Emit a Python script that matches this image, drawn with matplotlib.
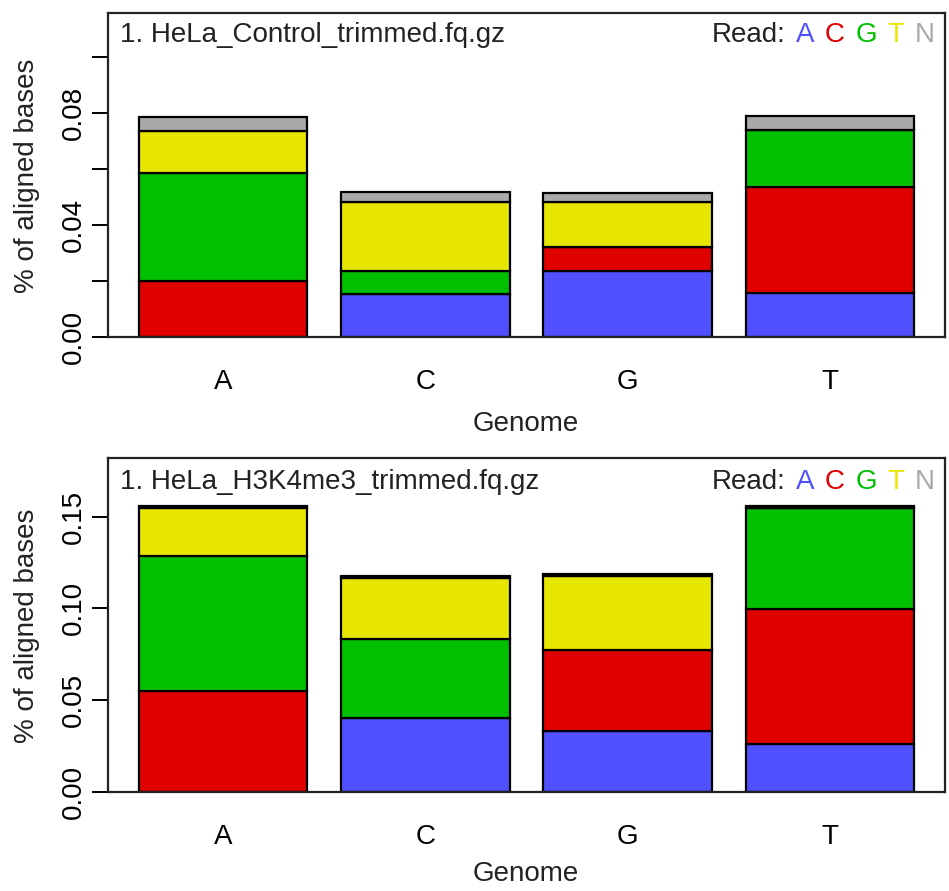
import matplotlib
matplotlib.use("Agg")
import matplotlib.pyplot as plt
from matplotlib.offsetbox import TextArea, HPacker, AnchoredOffsetbox

plt.rcParams['font.family'] = ['Liberation Sans', 'DejaVu Sans']

genome = ["A", "C", "G", "T"]
read_bases = ["A", "C", "G", "T", "N"]
base_colors = ["#5050FF", "#E00000", "#00C000", "#E6E600", "#A9A9A9"]

# HeLa_Control: fraction of aligned bases, per read base, for each genome base
ctrl_A = [0.0, 0.0155, 0.0237, 0.0157]
ctrl_C = [0.0201, 0.0, 0.0084, 0.0381]
ctrl_G = [0.0387, 0.0083, 0.0, 0.0202]
ctrl_T = [0.0149, 0.0246, 0.0161, 0.0]
ctrl_N = [0.0051, 0.0036, 0.0032, 0.0050]

# HeLa_H3K4me3
h3k_A = [0.0, 0.0400, 0.0333, 0.0260]
h3k_C = [0.0551, 0.0, 0.0440, 0.0735]
h3k_G = [0.0735, 0.0433, 0.0, 0.0551]
h3k_T = [0.0260, 0.0331, 0.0404, 0.0]
h3k_N = [0.0012, 0.0014, 0.0010, 0.0014]

FS = 20
W, H = 949, 891


def draw_panel(ax, series, title, ymax, yticks, ylabels):
    x = [0.7 + 1.2 * i for i in range(len(genome))]
    bottom = [0.0] * len(genome)
    for vals, col in zip(series, base_colors):
        ax.bar(x, vals, width=1.0, bottom=bottom, color=col,
               edgecolor="black", linewidth=1.6)
        bottom = [b + v for b, v in zip(bottom, vals)]

    ax.set_xlim(0.016, 4.984)
    ax.set_ylim(0, ymax)
    ax.set_xticks(x)
    ax.set_xticklabels(genome, fontsize=FS)
    ax.tick_params(axis="x", length=0, pad=23)
    ax.set_yticks(yticks)
    ax.set_yticklabels(ylabels, fontsize=FS, rotation=90, va="center")
    ax.tick_params(axis="y", length=11.5, width=1.4, pad=4)
    for s in ax.spines.values():
        s.set_linewidth(1.6)
        s.set_color("#222222")

    ax.text(0.0143, 0.93, title, transform=ax.transAxes, fontsize=FS,
            ha="left", va="center", color="#222222")

    boxes = [TextArea("Read:", textprops=dict(fontsize=FS, color="#222222"))]
    for b, c in zip(read_bases, base_colors):
        boxes.append(TextArea(b, textprops=dict(fontsize=FS, color=c)))
    pack = HPacker(children=boxes, align="baseline", pad=0, sep=7.5)
    legend = AnchoredOffsetbox(loc="center right", child=pack, pad=0,
                               borderpad=0, frameon=False,
                               bbox_to_anchor=(0.988, 0.93),
                               bbox_transform=ax.transAxes)
    ax.add_artist(legend)


fig = plt.figure(figsize=(W / 100, H / 100), dpi=100)

ax1 = fig.add_axes([108 / W, 1 - 337.3 / H, 837 / W, 324.6 / H])
draw_panel(ax1, [ctrl_A, ctrl_C, ctrl_G, ctrl_T, ctrl_N],
           "1. HeLa_Control_trimmed.fq.gz", 0.1159,
           [0, 0.02, 0.04, 0.06, 0.08, 0.10],
           ["0.00", "", "0.04", "", "0.08", ""])

ax2 = fig.add_axes([108 / W, 1 - 791.7 / H, 837 / W, 333.4 / H])
draw_panel(ax2, [h3k_A, h3k_C, h3k_G, h3k_T, h3k_N],
           "1. HeLa_H3K4me3_trimmed.fq.gz", 0.1819,
           [0, 0.05, 0.10, 0.15],
           ["0.00", "0.05", "0.10", "0.15"])

# axis titles
fig.text(27 / W, 1 - 176 / H, "% of aligned bases", rotation=90,
         fontsize=FS, ha="center", va="center", color="#222222")
fig.text(27 / W, 1 - 626 / H, "% of aligned bases", rotation=90,
         fontsize=FS, ha="center", va="center", color="#222222")
fig.text(526 / W, 1 - 424 / H, "Genome", fontsize=FS,
         ha="center", va="center", color="#222222")
fig.text(526 / W, 1 - 874 / H, "Genome", fontsize=FS,
         ha="center", va="center", color="#222222")

fig.savefig("out.png", dpi=100)
